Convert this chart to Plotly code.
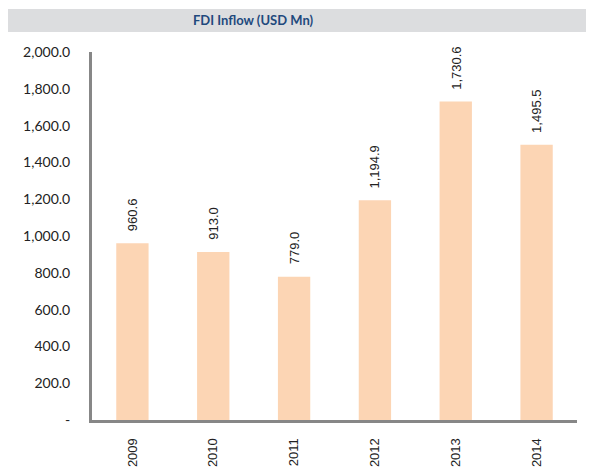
import plotly.graph_objects as go

years = ["2009", "2010", "2011", "2012", "2013", "2014"]
fdi_inflow = [960.6, 913.0, 779.0, 1194.9, 1730.6, 1495.5]
ytick_vals = [0, 200, 400, 600, 800, 1000, 1200, 1400, 1600, 1800, 2000]
ytick_text = ["-", "200.0", "400.0", "600.0", "800.0", "1,000.0", "1,200.0",
              "1,400.0", "1,600.0", "1,800.0", "2,000.0"]
title_text = "FDI Inflow (USD Mn)"

# the page body has an 8px margin, so the figure is placed at (8, 8)
OFF = 8
W, H = 594 - OFF, 467 - OFF
L, T = 92 - OFF, 52 - OFF
R, B = W - (577 - OFF), H - (420 - OFF)
pw, ph = W - L - R, H - T - B

def px_x(px):
    return (px - OFF - L) / pw

def px_y(py):
    return (H - B - (py - OFF)) / ph

fig = go.Figure()
fig.add_trace(go.Bar(
    x=years, y=fdi_inflow,
    marker=dict(color="#FCD5B4", line=dict(width=0)),
    hoverinfo="skip",
))

for i, v in enumerate(fdi_inflow):
    fig.add_annotation(
        x=i, y=v, xref="x", yref="y",
        text=f"{v:,.1f}", textangle=-90, showarrow=False,
        yanchor="bottom", xanchor="center", yshift=10,
        font=dict(family="Liberation Sans, Arial", size=13, color="#222222"),
    )

fig.add_shape(type="rect", xref="paper", yref="paper",
              x0=px_x(OFF), x1=px_x(594), y0=px_y(32), y1=px_y(9),
              fillcolor="#DCDDDF", line=dict(width=0), layer="below")
fig.add_annotation(
    x=px_x(253), y=px_y(20.5), xref="paper", yref="paper",
    text=f"<b>{title_text}</b>", showarrow=False,
    xanchor="center", yanchor="middle",
    font=dict(family="Lato, Open Sans", size=13, color="#1F497D"),
)

fig.update_layout(
    width=W, height=H,
    margin=dict(l=L, r=R, t=T, b=B, pad=0, autoexpand=False),
    paper_bgcolor="white", plot_bgcolor="white",
    bargap=0.6, showlegend=False,
    xaxis=dict(
        type="category", automargin=False, range=[-0.5, 5.5],
        showline=True, linecolor="#878787", linewidth=3,
        showgrid=False, zeroline=False,
        tickangle=-90, ticks="outside", ticklen=10, tickcolor="rgba(0,0,0,0)",
        tickfont=dict(family="Liberation Sans, Arial", size=13, color="#222222"),
    ),
    yaxis=dict(
        range=[0, 2000], showline=True, linecolor="#878787", linewidth=3,
        showgrid=False, zeroline=False, automargin=False,
        tickvals=ytick_vals, ticktext=ytick_text,
        ticks="outside", ticklen=16, tickcolor="rgba(0,0,0,0)",
        tickfont=dict(family="Lato, Open Sans", size=14, color="#222222"),
    ),
)

fig.write_html("out.html")
